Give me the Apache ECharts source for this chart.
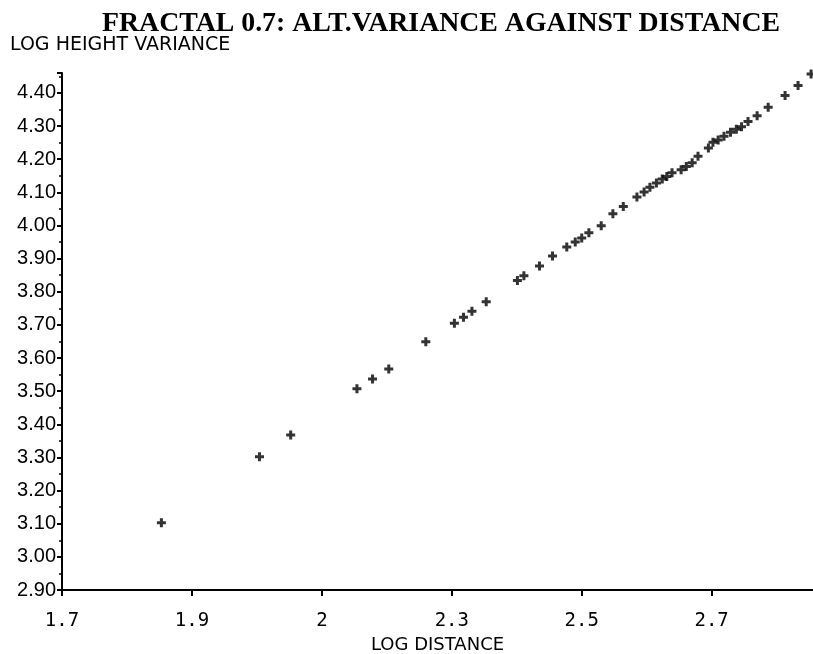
<!DOCTYPE html>
<html>
<head>
<meta charset="utf-8">
<script src="https://cdn.jsdelivr.net/npm/echarts@6/dist/echarts.min.js"></script>
<style>html,body{margin:0;padding:0;background:#fff}#c{width:813px;height:654px}</style>
</head>
<body>
<div id="c"></div>
<script>
const titleText = 'FRACTAL 0.7: ALT.VARIANCE AGAINST DISTANCE';
const yAxisTitle = 'LOG HEIGHT VARIANCE';
const xAxisTitle = 'LOG DISTANCE';
const xTickLabels = ['1.7', '1.9', '2', '2.3', '2.5', '2.7'];
const logDistance = [
  1.853, 2.004, 2.052, 2.154, 2.178, 2.203, 2.260, 2.304, 2.318, 2.331,
  2.353, 2.401, 2.411, 2.435, 2.455, 2.477, 2.490, 2.500, 2.511, 2.530,
  2.548, 2.564, 2.585, 2.596, 2.605, 2.615, 2.624, 2.631, 2.639, 2.653,
  2.661, 2.670, 2.679, 2.695, 2.702, 2.710, 2.719, 2.729, 2.738, 2.746,
  2.756, 2.770, 2.787, 2.813, 2.833, 2.853
];
const logVariance = [
  3.103, 3.302, 3.368, 3.507, 3.537, 3.567, 3.649, 3.705, 3.723, 3.741,
  3.770, 3.834, 3.848, 3.878, 3.908, 3.935, 3.950, 3.962, 3.978, 3.999,
  4.035, 4.057, 4.086, 4.101, 4.115, 4.128, 4.140, 4.148, 4.159, 4.168,
  4.178, 4.189, 4.209, 4.234, 4.251, 4.258, 4.269, 4.281, 4.290, 4.298,
  4.314, 4.331, 4.357, 4.392, 4.422, 4.457
];
const points = logDistance.map((x, i) => [x, logVariance[i]]);
const chart = echarts.init(document.getElementById('c'));
chart.setOption({
  animation: false,
  backgroundColor: '#fff',
  title: {
    text: titleText, left: 97, top: 5,
    textStyle: { fontFamily: 'Liberation Serif', fontWeight: 'bold', fontSize: 27.8, color: '#000' }
  },
  grid: { left: 62, right: 0, top: 73, bottom: 64, containLabel: false, outerBoundsMode: 'none' },
  xAxis: {
    type: 'value', min: 1.7, max: 2.856, interval: 0.2,
    name: xAxisTitle, nameLocation: 'middle', nameGap: 40,
    nameTextStyle: { fontFamily: 'DejaVu Sans', fontSize: 18, color: '#000' },
    axisLine: { lineStyle: { color: '#000', width: 2 } },
    axisTick: { show: true, inside: false, length: 6, lineStyle: { color: '#000', width: 2 } },
    splitLine: { show: false },
    axisLabel: {
      showMaxLabel: false, margin: 22,
      fontFamily: 'DejaVu Sans Mono', fontSize: 19, color: '#000',
      formatter: v => { const i = Math.round((v - 1.7) / 0.2); return i >= 0 && i < xTickLabels.length ? xTickLabels[i] : ''; }
    }
  },
  yAxis: {
    type: 'value', min: 2.9, max: 4.46, interval: 0.1,
    name: yAxisTitle, nameLocation: 'end', nameGap: 18,
    nameTextStyle: { fontFamily: 'DejaVu Sans', fontSize: 19, color: '#000', align: 'left', padding: [0, 0, 0, -52] },
    axisLine: { show: true, lineStyle: { color: '#000', width: 2 } },
    axisTick: { show: true, inside: false, length: 5, lineStyle: { color: '#000', width: 2 } },
    minorTick: { show: true, splitNumber: 2, length: 3, lineStyle: { color: '#000', width: 1.5 } },
    splitLine: { show: false },
    axisLabel: {
      showMaxLabel: false, margin: 6,
      fontFamily: 'Liberation Sans', fontSize: 20, color: '#000',
      formatter: v => v.toFixed(2)
    }
  },
  series: [{
    type: 'scatter',
    data: points,
    symbol: 'path://M3,0H6V3H9V6H6V9H3V6H0V3H3Z',
    symbolSize: 9,
    itemStyle: { color: '#000' },
    clip: false
  }]
});
</script>
</body>
</html>
